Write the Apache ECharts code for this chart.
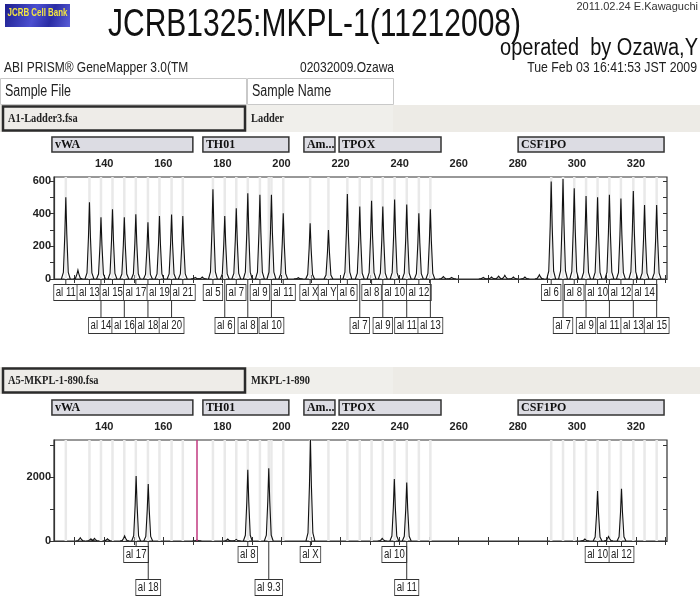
<!DOCTYPE html>
<html>
<head>
<meta charset="utf-8">
<script src="https://cdn.jsdelivr.net/npm/echarts@6/dist/echarts.min.js"></script>
<style>
  html, body { margin: 0; padding: 0; background: #fff; }
  #chart { width: 700px; height: 600px; }
</style>
</head>
<body>
<div id="chart"></div>
<script>
// ---- ladder run (A1-Ladder3.fsa) ----
const ladderAlleles = [
  'al 11', 'al 13', 'al 14', 'al 15', 'al 16', 'al 17', 'al 18', 'al 19', 'al 20', 'al 21',
  'al 5', 'al 6', 'al 7', 'al 8', 'al 9', 'al 10', 'al 11',
  'al X', 'al Y',
  'al 6', 'al 7', 'al 8', 'al 9', 'al 10', 'al 11', 'al 12', 'al 13',
  'al 6', 'al 7', 'al 8', 'al 9', 'al 10', 'al 11', 'al 12', 'al 13', 'al 14', 'al 15'
];
const ladderBp = [
  127.0, 135.0, 138.9, 142.8, 146.8, 150.7, 154.8, 158.7, 162.8, 166.6,
  176.8, 180.8, 184.7, 188.6, 192.7, 196.6, 200.6,
  209.7, 215.9,
  222.3, 226.5, 230.5, 234.3, 238.3, 242.4, 246.5, 250.4,
  291.3, 295.3, 299.1, 303.1, 307.0, 311.0, 314.9, 319.1, 322.9, 327.0
];
const ladderHeight = [
  500, 470, 378, 427, 378, 396, 347, 386, 394, 386,
  549, 386, 433, 525, 516, 516, 402,
  341, 300,
  520, 443, 478, 443, 486, 455, 402, 427,
  596, 612, 555, 508, 500, 516, 492, 539, 453, 453
];
const ladderRow = [
  1, 1, 2, 1, 2, 1, 2, 1, 2, 1,
  1, 2, 1, 2, 1, 2, 1,
  1, 1,
  1, 2, 1, 2, 1, 2, 1, 2,
  1, 2, 1, 2, 1, 2, 1, 2, 1, 2
];
const ladderNoiseBp = [131.1, 170.8, 173.2, 205.7, 254.8, 257.6, 268.3, 271.1, 273.5, 275.6, 278.5, 282.4, 287.3];
const ladderNoiseHeight = [55, 10, 12, 8, 15, 10, 10, 12, 18, 22, 12, 12, 26];

// ---- sample run (A5-MKPL-1-890.fsa) ----
const sampleAlleles = ['al 17', 'al 18', 'al 8', 'al 9.3', 'al X', 'al 10', 'al 11', 'al 10', 'al 12'];
const sampleBp = [150.8, 154.9, 188.6, 195.7, 209.8, 238.2, 242.4, 307.0, 315.1];
const sampleHeight = [2030, 1780, 2220, 2270, 3150, 1930, 1820, 1560, 1625];
const sampleRow = [1, 2, 1, 2, 1, 1, 2, 1, 1];
const sampleNoiseBp = [131.9, 135.5, 136.7, 141.1, 146.9, 171.4, 181.8, 184.7, 234.1, 302.7, 310.7];
const sampleNoiseHeight = [100, 70, 80, 70, 160, 30, 60, 50, 80, 60, 140];
const sampleMarkerBp = 171.4;

// ---- loci (bin panels) ----
const markerNames = ['vWA', 'TH01', 'Am...', 'TPOX', 'CSF1PO'];
const markerStart = [122.3, 173.4, 207.6, 219.5, 280.1];
const markerEnd = [170.0, 202.5, 218.1, 254.0, 329.5];
const binBp = ladderBp.concat([195.7]);

// ---- axes ----
const bpMin = 123;
const bpMax = 330.5;
const bpTicks = [130, 140, 150, 160, 170, 180, 190, 200, 210, 220, 230, 240, 250, 260, 270, 280, 290, 300, 310, 320, 330];
const bpLabels = [140, 160, 180, 200, 220, 240, 260, 280, 300, 320];
const ladderYMax = 624;
const ladderYTicks = [0, 100, 200, 300, 400, 500, 600];
const ladderYLabels = [0, 200, 400, 600];
const sampleYMax = 3150;
const sampleYTicks = [0, 1000, 2000, 3000];
const sampleYLabels = [0, 2000];

const SANS = '"Liberation Sans", Arial, sans-serif';
const SERIF = '"Liberation Serif", "Times New Roman", serif';
const INK = '#222';

const chart = echarts.init(document.getElementById('chart'));

function peakItem(params, api) {
  const bp = api.value(0);
  const h = api.value(1);
  const apex = api.coord([bp, h]);
  const base = api.coord([bp, 0]);
  const hw = api.size([1.5, 0])[0];
  const ht = base[1] - apex[1];
  const x = base[0], y = base[1];
  return {
    type: 'polyline',
    shape: {
      points: [
        [x - hw, y], [x - hw * 0.55, y - ht * 0.08], [x - hw * 0.22, y - ht * 0.55],
        [apex[0], apex[1]],
        [x + hw * 0.22, y - ht * 0.55], [x + hw * 0.55, y - ht * 0.08], [x + hw, y]
      ]
    },
    style: { stroke: '#111', fill: null, lineWidth: 1.1 }
  };
}

function binItem(params, api) {
  const x = api.coord([api.value(0), 0])[0];
  const cs = params.coordSys;
  return {
    type: 'rect',
    shape: { x: x - 1.25, y: cs.y, width: 2.5, height: cs.height },
    style: { fill: '#e9e9e9' }
  };
}

function markerItemFor(names) {
  return function (params, api) {
    const a = api.coord([api.value(0), 0])[0];
    const b = api.coord([api.value(1), 0])[0];
    const cs = params.coordSys;
    return {
      type: 'group',
      children: [
        {
          type: 'rect',
          shape: { x: a, y: cs.y - 40, width: b - a, height: 15 },
          style: { fill: '#dcdce3', stroke: '#333', lineWidth: 1.5 }
        },
        {
          type: 'text', x: a + 3, y: cs.y - 32, scaleX: 0.92,
          style: {
            text: names[params.dataIndex],
            verticalAlign: 'middle', font: 'bold 13px ' + SERIF, fill: '#111'
          }
        }
      ]
    };
  };
}

function alleleItemFor(names) {
  return function (params, api) {
    const base = api.coord([api.value(0), 0]);
    const off = api.value(1) === 1 ? 6 : 39;
    return {
      type: 'group',
      children: [
        {
          type: 'line',
          shape: { x1: base[0], y1: base[1], x2: base[0], y2: base[1] + off },
          style: { stroke: '#333', lineWidth: 1 }
        },
        {
          type: 'text', x: base[0], y: base[1] + off, scaleX: 0.8,
          style: {
            text: names[params.dataIndex],
            align: 'center', verticalAlign: 'top',
            font: '12px ' + SANS, lineHeight: 12, fill: INK,
            backgroundColor: '#fff', borderColor: '#333', borderWidth: 1,
            padding: [2, 2, 1, 2]
          }
        }
      ]
    };
  };
}

function xAxesFor(gridIndex) {
  return [
    {
      gridIndex, type: 'value', position: 'top', min: bpMin, max: bpMax,
      splitLine: { show: false },
      axisLine: { lineStyle: { color: '#333', width: 1.2 } },
      axisTick: { customValues: bpTicks, length: 4, lineStyle: { color: '#333' } },
      axisLabel: { customValues: bpLabels, margin: 8, color: INK, fontFamily: SANS, fontWeight: 'bold', fontSize: 11 }
    },
    {
      gridIndex, type: 'value', position: 'top', min: bpMin, max: bpMax,
      splitLine: { show: false }, axisLine: { show: false }, axisLabel: { show: false },
      axisTick: { customValues: bpTicks, inside: true, length: 4, lineStyle: { color: '#333' } }
    }
  ];
}

function yAxesFor(gridIndex, max, ticks, labels) {
  return [
    {
      gridIndex, type: 'value', min: 0, max,
      splitLine: { show: false },
      axisLine: { show: true, lineStyle: { color: '#333', width: 1.2 } },
      axisTick: { show: true, customValues: ticks, length: 4, lineStyle: { color: '#333' } },
      axisLabel: {
        customValues: labels, margin: 3, color: INK, fontFamily: SANS, fontWeight: 'bold', fontSize: 11,
        formatter: v => String(v)
      }
    },
    {
      gridIndex, type: 'value', min: 0, max,
      splitLine: { show: false }, axisLine: { show: false }, axisLabel: { show: false },
      axisTick: { show: true, customValues: ticks, inside: true, length: 4, lineStyle: { color: '#333' } }
    }
  ];
}

const ladderPeaks = ladderBp.map((b, i) => [b, ladderHeight[i]])
  .concat(ladderNoiseBp.map((b, i) => [b, ladderNoiseHeight[i]]));
const samplePeaks = sampleBp.map((b, i) => [b, sampleHeight[i]])
  .concat(sampleNoiseBp.map((b, i) => [b, sampleNoiseHeight[i]]));
const markerData = markerStart.map((s, i) => [s, markerEnd[i]]);

function textEl(x, y, text, font, extra, scaleX) {
  return {
    type: 'text', x, y, silent: true, scaleX: scaleX || 1,
    style: Object.assign({ text, font, fill: INK, verticalAlign: 'middle' }, extra || {})
  };
}

function sampleBand(y, fileName, sampleName) {
  return [
    { type: 'rect', silent: true, shape: { x: 0, y, width: 700, height: 27 }, style: { fill: '#edebe6' } },
    { type: 'rect', silent: true, shape: { x: 247, y, width: 146, height: 27 }, style: { fill: '#f0efeb' } },
    { type: 'rect', silent: true, shape: { x: 3, y: y + 1.5, width: 242, height: 24 }, style: { fill: '#eeece8', stroke: '#2b2b2b', lineWidth: 2.5 } },
    textEl(8, y + 13.5, fileName, 'bold 13px ' + SERIF, null, 0.8),
    textEl(251, y + 13.5, sampleName, 'bold 13px ' + SERIF, null, 0.8)
  ];
}

const option = {
  backgroundColor: '#fff',
  animation: false,
  grid: [
    { left: 54, right: 33, top: 177, height: 102, show: true, borderColor: '#333', borderWidth: 1.2 },
    { left: 54, right: 33, top: 440, height: 101, show: true, borderColor: '#333', borderWidth: 1.2 }
  ],
  xAxis: xAxesFor(0).concat(xAxesFor(1)),
  yAxis: yAxesFor(0, ladderYMax, ladderYTicks, ladderYLabels)
    .concat(yAxesFor(1, sampleYMax, sampleYTicks, sampleYLabels)),
  graphic: [
    // logo
    {
      type: 'rect', silent: true, shape: { x: 5, y: 4, width: 65, height: 23 },
      style: {
        fill: new echarts.graphic.LinearGradient(0, 0, 1, 1, [
          { offset: 0, color: '#1d1f8e' }, { offset: 0.45, color: '#4b4fd0' },
          { offset: 0.7, color: '#2a2ca4' }, { offset: 1, color: '#5a5ed8' }
        ])
      }
    },
    textEl(37.5, 13, 'JCRB Cell Bank', 'bold 11px ' + SANS, { fill: '#f4e640', align: 'center' }, 0.72),
    // title block
    Object.assign(textEl(108, 6, 'JCRB1325:MKPL-1(11212008)', '30px ' + SANS, { verticalAlign: 'top', fill: '#111' }), { scaleY: 1.3 }),
    textEl(698, 7, '2011.02.24 E.Kawaguchi', '11px ' + SANS, { align: 'right', fill: '#333' }),
    Object.assign(textEl(698, 37, 'operated  by Ozawa,Y', '20px ' + SANS, { align: 'right', verticalAlign: 'top', fill: '#111' }), { scaleY: 1.15 }),
    textEl(4, 68, 'ABI PRISM\u00ae GeneMapper 3.0(TM', '15px ' + SANS, null, 0.8),
    textEl(347, 68, '02032009.Ozawa', '15px ' + SANS, { align: 'center' }, 0.8),
    textEl(697, 68, 'Tue Feb 03 16:41:53 JST 2009', '15px ' + SANS, { align: 'right' }, 0.82),
    // table header
    { type: 'rect', silent: true, shape: { x: 0.5, y: 78.5, width: 246, height: 26 }, style: { fill: '#fff', stroke: '#c9c9c9', lineWidth: 1 } },
    { type: 'rect', silent: true, shape: { x: 247.5, y: 78.5, width: 146, height: 26 }, style: { fill: '#fff', stroke: '#c9c9c9', lineWidth: 1 } },
    textEl(5, 92, 'Sample File', '16px ' + SANS, null, 0.78),
    textEl(252, 92, 'Sample Name', '16px ' + SANS, null, 0.78)
  ].concat(sampleBand(105, 'A1-Ladder3.fsa', 'Ladder'))
   .concat(sampleBand(367, 'A5-MKPL-1-890.fsa', 'MKPL-1-890')),
  series: [
    // ladder panel
    { type: 'custom', name: 'bins', xAxisIndex: 0, yAxisIndex: 0, renderItem: binItem, data: binBp.map(b => [b, 0]), z: 1, silent: true },
    { type: 'custom', name: 'loci', xAxisIndex: 0, yAxisIndex: 0, renderItem: markerItemFor(markerNames), data: markerData, clip: false, silent: true },
    { type: 'custom', name: 'ladder', xAxisIndex: 0, yAxisIndex: 0, renderItem: peakItem, data: ladderPeaks, clip: true, z: 3, silent: true },
    { type: 'custom', name: 'ladder alleles', xAxisIndex: 0, yAxisIndex: 0, renderItem: alleleItemFor(ladderAlleles), data: ladderBp.map((b, i) => [b, ladderRow[i]]), clip: false, z: 4, silent: true },
    // sample panel
    { type: 'custom', name: 'bins', xAxisIndex: 2, yAxisIndex: 2, renderItem: binItem, data: binBp.map(b => [b, 0]), z: 1, silent: true },
    { type: 'custom', name: 'loci', xAxisIndex: 2, yAxisIndex: 2, renderItem: markerItemFor(markerNames), data: markerData, clip: false, silent: true },
    {
      type: 'custom', name: 'sample', xAxisIndex: 2, yAxisIndex: 2, renderItem: peakItem, data: samplePeaks, clip: true, z: 3, silent: true,
      markLine: {
        silent: true, symbol: 'none', label: { show: false },
        lineStyle: { color: '#c23a80', width: 1.5, type: 'solid' },
        data: [{ xAxis: sampleMarkerBp }]
      }
    },
    { type: 'custom', name: 'sample alleles', xAxisIndex: 2, yAxisIndex: 2, renderItem: alleleItemFor(sampleAlleles), data: sampleBp.map((b, i) => [b, sampleRow[i]]), clip: false, z: 4, silent: true }
  ]
};

chart.setOption(option);
</script>
</body>
</html>
